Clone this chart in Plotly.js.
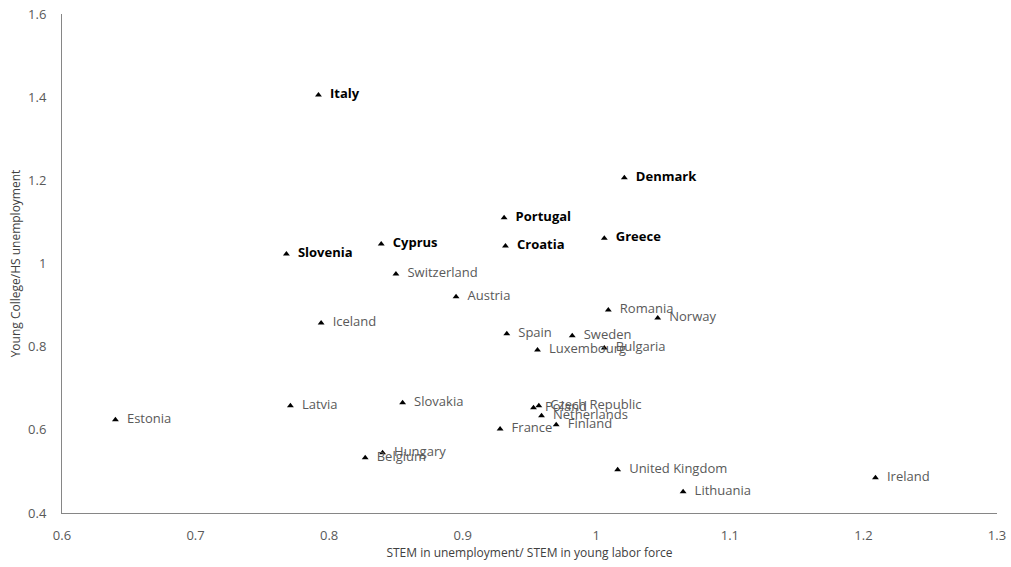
<!DOCTYPE html>
<html><head><meta charset="utf-8">
<script src="https://cdn.plot.ly/plotly-3.0.1.min.js"></script>
<style>html,body{margin:0;padding:0;background:#fff}#chart{width:1011px;height:567px}</style>
</head><body><div id="chart"></div>
<script>
// Highlighted (bold) countries
const boldCountries = ["Italy","Denmark","Portugal","Greece","Cyprus","Croatia","Slovenia"];
const boldX = [0.792, 1.021, 0.931, 1.006, 0.839, 0.932, 0.768];
const boldY = [1.405, 1.206, 1.110, 1.061, 1.047, 1.042, 1.023];

// Other countries
const otherCountries = ["Switzerland","Austria","Iceland","Romania","Norway","Spain","Sweden","Luxembourg","Bulgaria","Slovakia","Latvia","Estonia","Poland","Czech Republic","Netherlands","France","Finland","Hungary","Belgium","United Kingdom","Lithuania","Ireland"];
const otherX = [0.850, 0.895, 0.794, 1.009, 1.046, 0.933, 0.982, 0.956, 1.006, 0.855, 0.771, 0.640, 0.953, 0.957, 0.959, 0.928, 0.970, 0.840, 0.827, 1.016, 1.065, 1.209];
const otherY = [0.975, 0.920, 0.857, 0.888, 0.869, 0.831, 0.826, 0.792, 0.797, 0.665, 0.658, 0.624, 0.653, 0.658, 0.634, 0.602, 0.612, 0.545, 0.533, 0.504, 0.451, 0.485];

const xTicks = [0.6, 0.7, 0.8, 0.9, 1, 1.1, 1.2, 1.3];
const yTicks = [0.4, 0.6, 0.8, 1, 1.2, 1.4, 1.6];

const fontFam = "Open Sans, Liberation Sans, sans-serif";
const marker = {symbol: "triangle-up", size: 6, color: "#000000"};
const labelTpl = "\u00a0\u00a0%{text}<br>\u00a0";

const traces = [
  {x: otherX, y: otherY, text: otherCountries, mode: "markers+text", type: "scatter",
   texttemplate: "\u00a0\u00a0%{text}", textposition: "middle right", marker: marker, cliponaxis: false,
   textfont: {family: fontFam, size: 13, color: "#595959"}, hoverinfo: "text"},
  {x: boldX, y: boldY, text: boldCountries, mode: "markers+text", type: "scatter",
   texttemplate: "\u00a0\u00a0%{text}", textposition: "middle right", marker: marker, cliponaxis: false,
   textfont: {family: fontFam, size: 13, color: "#000000", weight: "bold"}, hoverinfo: "text"}
];

const layout = {
  width: 1011, height: 567,
  margin: {l: 62, r: 14, t: 14, b: 54},
  paper_bgcolor: "#ffffff", plot_bgcolor: "#ffffff",
  showlegend: false,
  font: {family: fontFam, size: 12, color: "#595959"},
  xaxis: {
    range: [0.6, 1.3], tickvals: xTicks, ticktext: xTicks.map(String),
    showgrid: false, zeroline: false, showline: true, linecolor: "#868686", linewidth: 1,
    ticks: "outside", ticklen: 10, tickcolor: "rgba(0,0,0,0)", tickfont: {size: 13, color: "#595959"},
    title: {text: "STEM in unemployment/ STEM in young labor force", font: {size: 12, color: "#404040"}, standoff: 6}
  },
  yaxis: {
    range: [0.4, 1.6], tickvals: yTicks, ticktext: yTicks.map(String),
    showgrid: false, zeroline: false, showline: true, linecolor: "#868686", linewidth: 1,
    ticks: "outside", ticklen: 12, tickcolor: "rgba(0,0,0,0)", tickfont: {size: 13, color: "#595959"},
    title: {text: "Young College/HS unemployment", font: {size: 12, color: "#404040"}, standoff: 4}
  }
};

Plotly.newPlot("chart", traces, layout, {displayModeBar: false, staticPlot: true});
</script></body></html>
